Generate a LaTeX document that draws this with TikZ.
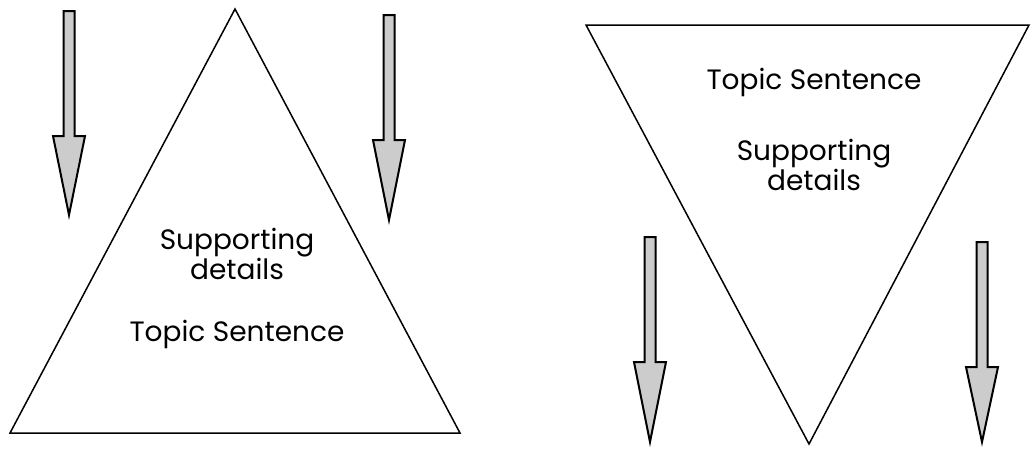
\documentclass[tikz,border=0pt]{standalone}
\usepackage{fontspec}
\setmainfont{Poppins}
\usetikzlibrary{positioning}

\begin{document}
\begin{tikzpicture}[
  x=0.5pt, y=-0.5pt,
  tri/.style={draw=black, line width=0.75pt, line join=miter},
  lbl/.style={font=\fontsize{14}{14}\selectfont, align=center, inner sep=0pt},
  downarrow/.pic={
    \draw[fill=black!20, line width=1pt, line join=miter]
      (-5.5,0) -- (5.5,0) -- (5.5,125) -- (16,125) -- (0,#1)
      -- (-16,125) -- (-5.5,125) -- cycle;
  }
]
\useasboundingbox (0,0) rectangle (1031,452);

% deductive: widening triangle
\draw[tri] (10,433) -- (235,9) -- (460,433) -- cycle;
\node[lbl] (topicL) at (237,334) {Topic Sentence};
\node[lbl, above=40pt of topicL.center, anchor=center] (suppL) {Supporting\\details};
\pic at (69,11) {downarrow=204};
\pic at (389,15) {downarrow=205};

% inductive: narrowing triangle
\draw[tri] (586,25) -- (1029,25) -- (809,444) -- cycle;
\node[lbl] (topicR) at (814,82) {Topic Sentence};
\node[lbl, below=41.5pt of topicR.center, anchor=center] (suppR) {Supporting\\details};
\pic at (650,237) {downarrow=205};
\pic at (982,242) {downarrow=200};

\end{tikzpicture}
\end{document}
